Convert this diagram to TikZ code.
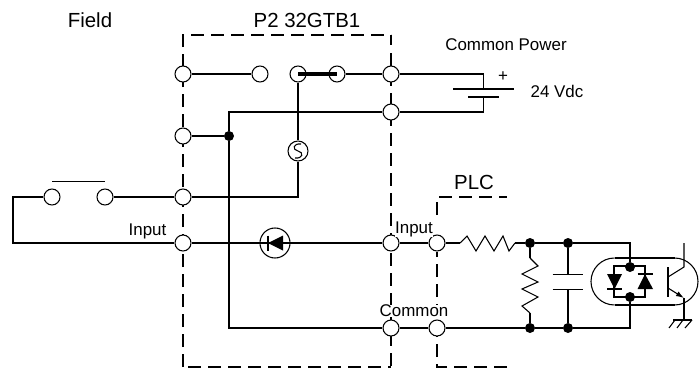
\documentclass[tikz,border=0pt]{standalone}
\usepackage{fontspec}
\setmainfont{Liberation Sans}
\usetikzlibrary{arrows.meta}
\tikzset{
  wire/.style={draw=black, line width=0.8pt},
  thickwire/.style={draw=black, line width=1.4pt},
  boxline/.style={draw=black, line width=1.4pt, dash pattern=on 9.75pt off 5.25pt},
  term/.style={circle, draw=black, fill=white, line width=0.8pt, minimum size=12pt, inner sep=0pt},
  dot/.style={circle, fill=black, minimum size=7.5pt, inner sep=0pt},
  ring/.style={circle, draw=black, line width=0.8pt, inner sep=0pt},
  bigtxt/.style={font=\fontsize{15.3}{18}\selectfont, inner sep=0pt},
  txt/.style={font=\fontsize{12.7}{15}\selectfont, inner sep=0pt},
}
\begin{document}
\begin{tikzpicture}[x=0.75pt,y=-0.75pt]
\useasboundingbox (0,0) rectangle (699,371);

% Dashed boxes
\draw[boxline] (183,367) -- (183,35) -- (391,35);
\draw[wire] (391,35) -- (391,45);
\draw[boxline] (391,53) -- (391,367);
\draw[boxline] (188,367) -- (391,367);
\draw[boxline] (437,215) -- (437,197) -- (507,197);
\draw[boxline] (507,367) -- (437,367) -- (437,252);

% Terminals
\node[term] (tTop) at (183,74) {};
\node[term] (tLow) at (183,136) {};
\node[term] (tSw) at (183,197) {};
\node[term] (tIn) at (183,243) {};
\node[term] (open1) at (260,74) {};
\node[term] (rel1) at (298,74) {};
\node[term] (rel2) at (337,74) {};
\node[term] (rTop) at (391,74) {};
\node[term] (rLow) at (391,112) {};
\node[term] (rIn) at (391,243) {};
\node[term] (rCom) at (391,328) {};
\node[term] (plcIn) at (437,243) {};
\node[term] (plcCom) at (437,328) {};
\node[term] (sw1) at (52,197) {};
\node[term] (sw2) at (105,197) {};
\node[dot] (jA) at (229,136) {};
\node[dot] (jB) at (530,243) {};
\node[dot] (jC) at (568,243) {};
\node[dot] (jD) at (530,328) {};
\node[dot] (jE) at (568,328) {};
\node[dot] (jF) at (630,267) {};
\node[dot] (jG) at (630,297) {};

% Labels
\node[bigtxt] (lField) at (90,20) {Field};
\node[bigtxt] (lBox) at (307,20) {P2 32GTB1};
\node[bigtxt] (lPlc) at (474,182) {PLC};
\node[txt] (lPower) at (506,45) {Common Power};
\node[txt] (lVdc) at (557,91) {24 Vdc};
\node[txt] (lPlus) at (503,77) {+};
\node[txt] (lIn) at (147.5,231) {Input};
\node[txt, fill=white] (lIn2) at (414,229) {Input};
\node[txt, fill=white] (lCom) at (414,311) {Common};

% Upper wiring
\draw[wire] (tTop) -- (open1);
\draw[line width=3pt] (rel1.center) -- (rel2.center);
\draw[wire] (rel2) -- (rTop);
\draw[wire] (tLow) -- (jA);
\coordinate (cUp) at (229,112);
\draw[wire] (jA) -- (cUp) -- (rLow);

% Surge element
\node[ring, minimum size=15pt] (surge) at (298,151) {};
\coordinate (cSw) at (298,197);
\draw[wire] (rel1) -- (surge);
\draw[wire] (surge) -- (cSw) -- (tSw);
\draw[wire] (301,144) .. controls (293,143) and (292,150) .. (298,151) .. controls (304,152) and (303,159) .. (295,158);

% Field switch
\coordinate (cLoopA) at (13,197);
\coordinate (cLoopB) at (13,243);
\draw[wire] (sw2) -- (tSw);
\draw[wire] (sw1) -- (cLoopA) -- (cLoopB) -- (tIn);
\draw[wire] (52,181.5) -- (105,181.5);

% Diode
\node[ring, minimum size=22.5pt] (led) at (275,243) {};
\draw[wire] (tIn) -- (rIn);
\fill (283,235.5) -- (283,250.5) -- (268,243) -- cycle;
\draw[wire] (268,235.5) -- (268,250.5);

% Common rail
\coordinate (cRailA) at (229,273);
\coordinate (cRailB) at (229,328);
\draw[thickwire] (jA) -- (cRailA);
\draw[wire] (cRailA) -- (cRailB) -- (rCom);

% Battery
\coordinate (cBatA) at (483.5,74);
\coordinate (cBatB) at (483.5,89);
\coordinate (cBatC) at (483.5,97);
\coordinate (cBatD) at (483.5,112);
\draw[wire] (rTop) -- (cBatA) -- (cBatB);
\draw[wire] (cBatC) -- (cBatD) -- (rLow);
\draw[wire] (453,89) -- (514,89);
\draw[wire] (468,97) -- (499,97);

% PLC input side
\coordinate (rOneA) at (460,243);
\coordinate (rOneB) at (515,243);
\draw[wire] (rIn) -- (plcIn);
\draw[wire] (plcIn) -- (rOneA);
\draw[wire] (rOneA) -- (467,236) -- (476,251) -- (485,236) -- (494,251) -- (503,236) -- (509,251) -- (rOneB);
\draw[wire] (rOneB) -- (jB);
\draw[wire] (jB) -- (jC);
\coordinate (cOptA) at (630,243);
\draw[wire] (jC) -- (cOptA) -- (jF);
\draw[wire] (rCom) -- (plcCom);
\draw[wire] (plcCom) -- (jD);
\draw[wire] (jD) -- (jE);
\coordinate (cOptB) at (630,328);
\draw[wire] (jE) -- (cOptB) -- (jG);

% Vertical resistor
\coordinate (rTwoA) at (530,258);
\coordinate (rTwoB) at (530,313);
\draw[wire] (jB) -- (rTwoA);
\draw[wire] (rTwoA) -- (538,266) -- (522,274) -- (538,282) -- (522,289) -- (538,297) -- (522,306) -- (rTwoB);
\draw[wire] (rTwoB) -- (jD);

% Capacitor
\coordinate (capA) at (568,274.5);
\coordinate (capB) at (568,289.5);
\draw[wire] (jC) -- (capA);
\draw[wire] (jE) -- (capB);
\draw[wire] (552.5,274.5) -- (583,274.5);
\draw[wire] (552.5,289.5) -- (583,289.5);

% Optocoupler
\draw[wire] (614.5,258) arc (270:90:23.5);
\draw[wire] (674.5,258) arc (-90:90:23.5);
\draw[thickwire] (614.5,258) -- (674.5,258);
\draw[thickwire] (614.5,305) -- (674.5,305);
\draw[wire] (614,266) rectangle (645,297);
\fill (607,274) -- (622,274) -- (614.5,289) -- cycle;
\draw[wire] (607,289) -- (622,289);
\fill (637.5,289) -- (653,289) -- (645,274) -- cycle;
\draw[wire] (637.5,274) -- (653,274);

% Transistor
\draw[wire] (668,267) -- (668,297);
\draw[wire] (668,277) -- (684,267) -- (684,243);
\draw[wire, -{Latex[length=6pt,width=4pt]}] (668,288) -- (684,298);
\draw[wire] (684,298) -- (684,320);
\draw[wire] (673,320) -- (692,320);
\draw[wire] (675,320) -- (669,328);
\draw[wire] (683,320) -- (677,328);
\draw[wire] (692,320) -- (685,328);
\end{tikzpicture}
\end{document}
